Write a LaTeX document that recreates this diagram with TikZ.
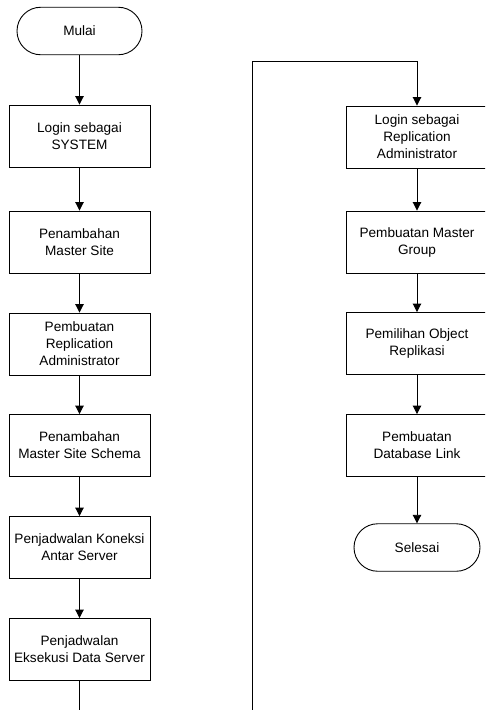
\documentclass[tikz,border=0pt]{standalone}
\usepackage{fontspec}
\setmainfont{Liberation Sans}
\usetikzlibrary{arrows.meta}
\begin{document}
\begin{tikzpicture}[x=1pt,y=-1pt,
  every node/.style={font=\fontsize{13.6}{17}\selectfont, align=center, inner sep=0pt},
  procbox/.style={draw, line width=0.9pt, minimum width=141pt, minimum height=62pt},
  termbox/.style={draw, line width=0.9pt, minimum width=125pt, minimum height=47.5pt, rounded corners=23.7pt},
  flow/.style={draw, line width=0.9pt, -{Triangle[width=8.5pt,length=8.5pt]}},
  plain/.style={draw, line width=0.9pt}]
\useasboundingbox (0,0) rectangle (485,710);
\clip (0,0) rectangle (485,710);
\fill[white] (0,0) rectangle (485,710);

% left column
\node[termbox] (mulai) at (79.5,31) {Mulai};
\node[procbox] (b1) at (79.5,136) {Login sebagai\\SYSTEM};
\node[procbox] (b2) at (79.5,242) {Penambahan\\Master Site};
\node[procbox] (b3) at (79.5,344) {Pembuatan\\Replication\\Administrator};
\node[procbox] (b4) at (79.5,445.5) {Penambahan\\Master Site Schema};
\node[procbox] (b5) at (79.5,547.5) {Penjadwalan Koneksi\\Antar Server};
\node[procbox] (b6) at (79.5,649.5) {Penjadwalan\\Eksekusi Data Server};

% right column
\node[procbox] (r1) at (417,137) {Login sebagai\\Replication\\Administrator};
\node[procbox] (r2) at (417,242) {Pembuatan Master\\Group};
\node[procbox] (r3) at (417,343.5) {Pemilihan Object\\Replikasi};
\node[procbox] (r4) at (417,445.5) {Pembuatan\\Database Link};
\node[termbox, minimum width=126pt] (selesai) at (417,547.5) {Selesai};

% connectors
\coordinate (offL) at (79.5,715);
\coordinate (offR) at (252.5,715);
\coordinate (topR) at (252.5,61);

\path[flow] (mulai) -- (b1);
\path[flow] (b1) -- (b2);
\path[flow] (b2) -- (b3);
\path[flow] (b3) -- (b4);
\path[flow] (b4) -- (b5);
\path[flow] (b5) -- (b6);
\path[plain] (b6) -- (offL);

\path[flow] (offR) -- (topR) -| (r1.north);
\path[flow] (r1) -- (r2);
\path[flow] (r2) -- (r3);
\path[flow] (r3) -- (r4);
\path[flow] (r4) -- (selesai);
\end{tikzpicture}
\end{document}
